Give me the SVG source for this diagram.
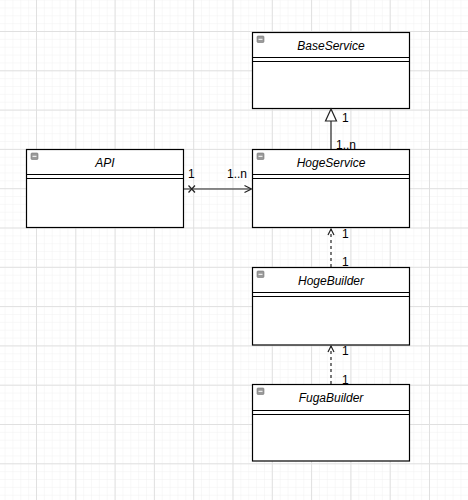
<svg xmlns="http://www.w3.org/2000/svg" width="468" height="500" viewBox="0 0 468 500">
<defs>
<pattern id="minor" x="36" y="31" width="7.86" height="7.86" patternUnits="userSpaceOnUse">
<path d="M0 0V7.86M0 0H7.86" fill="none" stroke="#f1f1f1" stroke-width="1"/>
</pattern>
<pattern id="major" x="36" y="31" width="39.3" height="39.3" patternUnits="userSpaceOnUse">
<path d="M0.5 0V39.3M0 0.5H39.3" fill="none" stroke="#e0e0e0" stroke-width="1"/>
</pattern>
<g id="icon">
<rect x="0" y="0" width="7" height="6.5" rx="1" fill="#9a9a9a" stroke="#777" stroke-width="0.6"/>
<rect x="1.5" y="2.8" width="4" height="1" fill="#fff"/>
</g>
</defs>
<style>
.box{fill:#fff;stroke:#000;stroke-width:1.2}
.sep{stroke:#000;stroke-width:1.2;fill:none}
.title{font-family:"Liberation Sans",Arial,sans-serif;font-size:12px;font-style:italic;text-anchor:middle;fill:#000}
.lbl{font-family:"Liberation Sans",Arial,sans-serif;font-size:12px;fill:#000}
.edge{stroke:#222;stroke-width:1.2;fill:none}
.dash{stroke-dasharray:3 3}
</style>
<rect width="468" height="500" fill="#fff"/>
<rect width="468" height="500" fill="url(#minor)"/>
<rect width="468" height="500" fill="url(#major)"/>

<g id="BaseService">
<rect class="box" x="252.5" y="32.5" width="157" height="76"/>
<path class="sep" d="M252.5 57.5H409.5M252.5 61.5H409.5"/>
<use href="#icon" x="257" y="36"/>
<text class="title" x="331" y="49.5">BaseService</text>
</g>

<g id="API">
<rect class="box" x="26.5" y="149.5" width="157" height="78"/>
<path class="sep" d="M26.5 174.5H183.5M26.5 178.5H183.5"/>
<use href="#icon" x="31" y="153"/>
<text class="title" x="105" y="166.5">API</text>
</g>

<g id="HogeService">
<rect class="box" x="252.5" y="149.5" width="157" height="78"/>
<path class="sep" d="M252.5 174.5H409.5M252.5 178.5H409.5"/>
<use href="#icon" x="257" y="153"/>
<text class="title" x="331" y="166.5">HogeService</text>
</g>

<g id="HogeBuilder">
<rect class="box" x="252.5" y="267.5" width="157" height="77.5"/>
<path class="sep" d="M252.5 292.5H409.5M252.5 296.5H409.5"/>
<use href="#icon" x="257" y="271"/>
<text class="title" x="331" y="284.5">HogeBuilder</text>
</g>

<g id="FugaBuilder">
<rect class="box" x="252.5" y="384.5" width="157" height="76.5"/>
<path class="sep" d="M252.5 410.5H409.5M252.5 414.5H409.5"/>
<use href="#icon" x="257" y="388"/>
<text class="title" x="331" y="402">FugaBuilder</text>
</g>

<g id="connectors">
<path class="edge" d="M331 149V121"/>
<path d="M331 109L325.5 121H336.5Z" fill="#fff" stroke="#222" stroke-width="1.2"/>
<text class="lbl" x="342" y="122">1</text>
<text class="lbl" x="336" y="149">1..n</text>

<path class="edge" d="M184 189H251"/>
<path class="edge" d="M244.5 185.5L251.5 189L244.5 192.5"/>
<path class="edge" d="M188.5 185.5L195 192.5M188.5 192.5L195 185.5"/>
<text class="lbl" x="188" y="178">1</text>
<text class="lbl" x="227" y="178">1..n</text>

<path class="edge dash" d="M331 267V229"/>
<path class="edge" d="M328 235L331 229L334 235"/>
<text class="lbl" x="342" y="238">1</text>
<text class="lbl" x="342" y="266">1</text>

<path class="edge dash" d="M331 384V346"/>
<path class="edge" d="M328 352L331 346L334 352"/>
<text class="lbl" x="342" y="355">1</text>
<text class="lbl" x="342" y="384">1</text>
</g>
</svg>
